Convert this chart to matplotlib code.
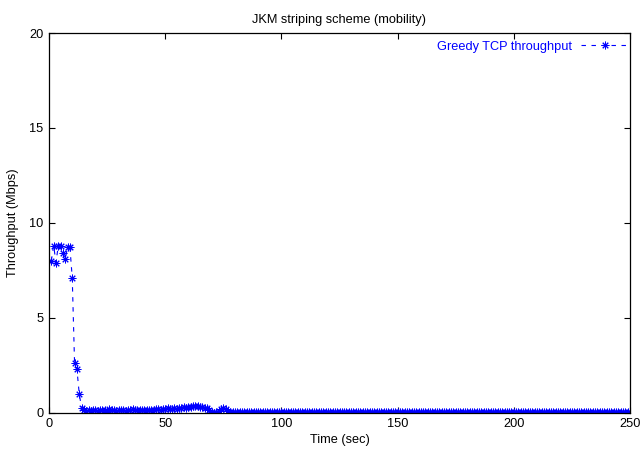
import numpy as np
import matplotlib
matplotlib.use("Agg")
import matplotlib.pyplot as plt

plt.rcParams['font.family'] = ['Liberation Sans', 'DejaVu Sans']

# Throughput samples (Mbps), one per second
ramp = [8.0, 8.8, 7.9, 8.8, 8.8, 8.4, 8.1, 8.7, 8.7, 7.1, 2.6, 2.3, 1.0]
low = [0.25,
       0.12, 0.10, 0.12, 0.10, 0.11, 0.12, 0.10, 0.12, 0.11, 0.12, 0.10,
       0.16, 0.12, 0.14, 0.10, 0.12, 0.11, 0.13, 0.10, 0.12, 0.14,
       0.16, 0.12, 0.11, 0.14, 0.12, 0.13, 0.15, 0.12, 0.14, 0.13,
       0.16, 0.18, 0.15, 0.20, 0.17, 0.22, 0.18, 0.20, 0.24, 0.19,
       0.24, 0.22, 0.27, 0.25, 0.30, 0.28, 0.33, 0.35, 0.32, 0.30,
       0.27, 0.25, 0.22, 0.12, 0.05,
       0.00, 0.02, 0.10,
       0.20, 0.22, 0.18, 0.10]
tail = [0.03] * 173
throughput = ramp + low + tail
time_sec = np.arange(1, len(throughput) + 1)

x_ticks = [0, 50, 100, 150, 200, 250]
y_ticks = [0, 5, 10, 15, 20]

FS = 9.2
fig = plt.figure(figsize=(6.41, 4.53), dpi=100)
ax = fig.add_axes([49 / 641, 1 - 412.5 / 453, 581 / 641, 379.5 / 453])

ax.plot(time_sec, throughput, color='#0000ff', linestyle=(0, (4, 5)), linewidth=0.8,
        marker=(8, 2, 0), markersize=5.5, markeredgewidth=0.7,
        label='Greedy TCP throughput')

ax.set_xlim(0, 250)
ax.set_ylim(0, 20)
ax.set_xticks(x_ticks)
ax.set_yticks(y_ticks)
ax.tick_params(direction='in', top=True, right=True, length=4, width=0.8,
               labelsize=FS, pad=4)
for s in ax.spines.values():
    s.set_linewidth(0.9)

ax.set_title('JKM striping scheme (mobility)', fontsize=FS, pad=7)
ax.set_xlabel('Time (sec)', fontsize=FS, labelpad=3)
ax.set_ylabel('Throughput (Mbps)', fontsize=FS, labelpad=7)

leg = ax.legend(loc='upper right', bbox_to_anchor=(1.011, 0.998), frameon=False,
                markerfirst=False, fontsize=FS, handlelength=3.8, handletextpad=0.7,
                borderaxespad=0.0, borderpad=0.55)
for txt in leg.get_texts():
    txt.set_color('#0000ff')

fig.savefig('out.png', dpi=100)
